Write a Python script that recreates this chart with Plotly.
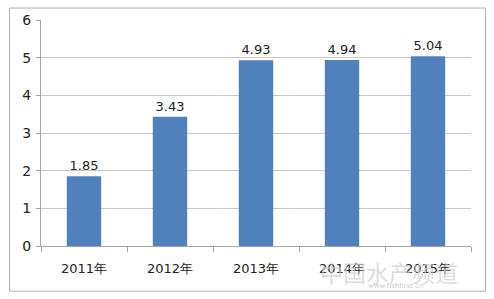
import plotly.graph_objects as go

categories = ["2011年", "2012年", "2013年", "2014年", "2015年"]
values = [1.85, 3.43, 4.93, 4.94, 5.04]
value_labels = ["1.85", "3.43", "4.93", "4.94", "5.04"]
y_ticks = [0, 1, 2, 3, 4, 5, 6]

fig = go.Figure()
fig.add_trace(go.Bar(
    x=categories, y=values,
    marker=dict(color="#4F81BD", line=dict(width=0)),
    text=value_labels, textposition="outside", cliponaxis=False,
    textfont=dict(size=13, color="#222222", family="DejaVu Sans"),
))

fig.update_layout(
    width=494, height=299,
    margin=dict(l=41, r=23, t=20, b=53),
    paper_bgcolor="white", plot_bgcolor="white",
    bargap=0.6, showlegend=False,
    font=dict(family="DejaVu Sans", size=13, color="#222222"),
    xaxis=dict(
        showline=True, linecolor="#a6a6a6", linewidth=1,
        ticks="outside", ticklen=5, tickcolor="#a6a6a6",
        tickson="boundaries", showgrid=False,
        tickfont=dict(size=13, color="#222222"),
        ticklabelstandoff=10,
    ),
    yaxis=dict(
        range=[0, 6], tickvals=y_ticks,
        showline=True, linecolor="#a6a6a6", linewidth=1,
        ticks="outside", ticklen=4, tickcolor="#a6a6a6",
        showgrid=True, gridcolor="#c8c8c8", gridwidth=1,
        zeroline=False, tickfont=dict(size=14, color="#222222"),
        ticklabelstandoff=2,
    ),
    shapes=[dict(type="rect", xref="paper", yref="paper",
                 x0=-0.073, x1=1.034, y0=-0.2, y1=1.053,
                 line=dict(color="#b0b0b0", width=1))],
    annotations=[
        dict(text="中国水产频道", xref="paper", yref="paper", x=0.81, y=-0.115,
             xanchor="center", yanchor="middle",
             showarrow=False, font=dict(size=23, color="rgba(205,205,205,0.7)",
                                        family="Noto Sans CJK SC")),
        dict(text="www.fishfirst.cn", xref="paper", yref="paper", x=0.825, y=-0.178,
             xanchor="center", yanchor="middle",
             showarrow=False, font=dict(size=7, color="rgba(190,190,190,0.8)")),
    ],
)

fig.write_html("out.html")
